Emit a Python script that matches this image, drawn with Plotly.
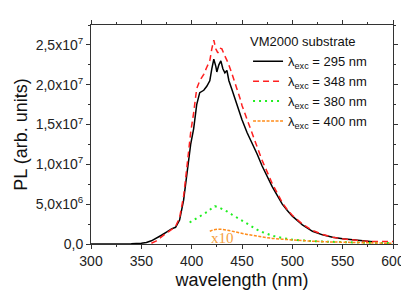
import plotly.graph_objects as go

# --- data ---
wl_295 = [300, 310, 320, 330, 340, 350, 355, 360, 365, 370, 375, 380, 384, 388, 392, 396, 399, 402, 405, 408,
          412, 415, 418, 420, 422, 424, 425, 427, 429, 431, 433, 435, 437, 440, 443, 445, 448, 450, 455, 460,
          465, 470, 475, 480, 485, 490, 495, 500, 510, 520, 530, 540, 550, 560, 570, 580]
pl_295 = [0, 0, 0, 0, 0.02e6, 0.1e6, 0.2e6, 0.4e6, 0.7e6, 1.1e6, 1.5e6, 1.9e6, 2.1e6, 3.0e6, 5.5e6, 9.5e6, 12.5e6, 14.5e6, 17.5e6, 19.0e6,
          19.3e6, 19.8e6, 20.5e6, 22.0e6, 23.2e6, 22.3e6, 21.6e6, 22.5e6, 23.0e6, 22.0e6, 21.5e6, 21.8e6, 20.5e6, 19.4e6, 18.3e6, 17.3e6, 16.2e6, 15.6e6, 14.0e6, 12.7e6,
          11.3e6, 9.8e6, 8.4e6, 7.2e6, 6.1e6, 5.0e6, 4.2e6, 3.5e6, 2.4e6, 1.6e6, 1.15e6, 0.85e6, 0.65e6, 0.5e6, 0.38e6, 0.28e6]

wl_348 = [360, 365, 370, 375, 380, 384, 388, 392, 396, 399, 402, 405, 408, 412, 415, 418, 420, 422, 424, 426,
          428, 430, 433, 436, 440, 443, 445, 448, 450, 455, 460, 465, 470, 475, 480, 485, 490, 495, 500, 510,
          520, 530, 540, 550, 560, 570, 580, 590, 600]
pl_348 = [0.1e6, 0.4e6, 0.9e6, 1.4e6, 1.9e6, 2.2e6, 3.3e6, 6.0e6, 10.5e6, 14.0e6, 16.5e6, 19.5e6, 20.5e6, 21.3e6, 22.2e6, 23.0e6, 24.5e6, 25.6e6, 24.5e6, 24.0e6,
          24.6e6, 24.5e6, 23.6e6, 22.8e6, 21.4e6, 20.3e6, 19.6e6, 18.3e6, 17.4e6, 15.6e6, 13.9e6, 12.2e6, 10.5e6, 9.0e6, 7.6e6, 6.4e6, 5.2e6, 4.3e6, 3.6e6, 2.5e6,
          1.7e6, 1.2e6, 0.85e6, 0.65e6, 0.5e6, 0.38e6, 0.3e6, 0.28e6, 0.3e6]

wl_380 = [398, 402, 406, 410, 415, 420, 423, 427, 431, 435, 440, 445, 450, 455, 460, 465, 470, 475, 480, 490,
          500, 520, 540, 560, 580, 600]
pl_380 = [2.7e6, 3.0e6, 3.3e6, 3.6e6, 4.0e6, 4.5e6, 4.75e6, 4.6e6, 4.4e6, 4.1e6, 3.7e6, 3.3e6, 2.9e6, 2.5e6, 2.15e6, 1.8e6, 1.5e6, 1.25e6, 1.05e6, 0.75e6,
          0.55e6, 0.35e6, 0.25e6, 0.2e6, 0.15e6, 0.1e6]

wl_400 = [418, 422, 426, 430, 435, 440, 445, 450, 455, 460, 470, 480, 490, 500, 520, 540, 560, 580, 600]
pl_400 = [1.6e6, 1.8e6, 1.85e6, 1.85e6, 1.75e6, 1.6e6, 1.5e6, 1.35e6, 1.2e6, 1.1e6, 0.9e6, 0.7e6, 0.6e6, 0.5e6, 0.35e6, 0.25e6, 0.18e6, 0.12e6, 0.08e6]

x_ticks = [300, 350, 400, 450, 500, 550, 600]
y_ticks = [0, 5e6, 1e7, 1.5e7, 2e7, 2.5e7]
y_ticktext = ["0,0", "5,0x10<sup>6</sup>", "1,0x10<sup>7</sup>", "1,5x10<sup>7</sup>", "2,0x10<sup>7</sup>", "2,5x10<sup>7</sup>"]

series = [
    (wl_295, pl_295, "λ<sub>exc</sub> = 295 nm", "#000000", "solid", 1.5),
    (wl_348, pl_348, "λ<sub>exc</sub> = 348 nm", "#FF2020", "6px,4px", 1.5),
    (wl_380, pl_380, "λ<sub>exc</sub> = 380 nm", "#22EE22", "2px,4px", 2),
    (wl_400, pl_400, "λ<sub>exc</sub> = 400 nm", "#FF8C1A", "3px,1.5px", 1.5),
]

fig = go.Figure()
for x, y, name, color, dash, w in series:
    fig.add_trace(go.Scatter(x=x, y=y, mode="lines", name=name,
                             line=dict(color=color, dash=dash, width=w)))

fig.add_annotation(x=431, y=0.75e6, text="x10", showarrow=False,
                   font=dict(family="Liberation Serif", size=15, color="#F5A040"))

axis_common = dict(showline=True, linecolor="#333333", linewidth=1, mirror="ticks",
                   ticks="outside", ticklen=4, tickcolor="#333333", showgrid=False, zeroline=False,
                   tickfont=dict(family="Liberation Sans", size=14, color="#222222"))

fig.update_xaxes(range=[300, 600], tickvals=x_ticks,
                 minor=dict(dtick=25, ticks="outside", ticklen=2, tickcolor="#333333"),
                 title=dict(text="wavelength (nm)", font=dict(family="Liberation Sans", size=18, color="#111111"), standoff=5),
                 **axis_common)
fig.update_yaxes(range=[0, 2.75e7], tickvals=y_ticks, ticktext=y_ticktext,
                 minor=dict(dtick=2.5e6, ticks="outside", ticklen=2, tickcolor="#333333"),
                 title=dict(text="PL (arb. units)", font=dict(family="Liberation Sans", size=18, color="#111111"), standoff=3),
                 **axis_common)

fig.update_layout(
    width=409, height=290,
    margin=dict(l=79, r=24, t=14, b=51),
    paper_bgcolor="white", plot_bgcolor="white",
    showlegend=True,
    legend=dict(x=0.52, y=0.98, xanchor="left", yanchor="top",
                title=dict(text="VM2000 substrate", font=dict(family="Liberation Sans", size=13, color="#111111")),
                font=dict(family="Liberation Sans", size=13, color="#111111"),
                bgcolor="rgba(0,0,0,0)", tracegroupgap=0),
)

fig.write_html("out.html")
